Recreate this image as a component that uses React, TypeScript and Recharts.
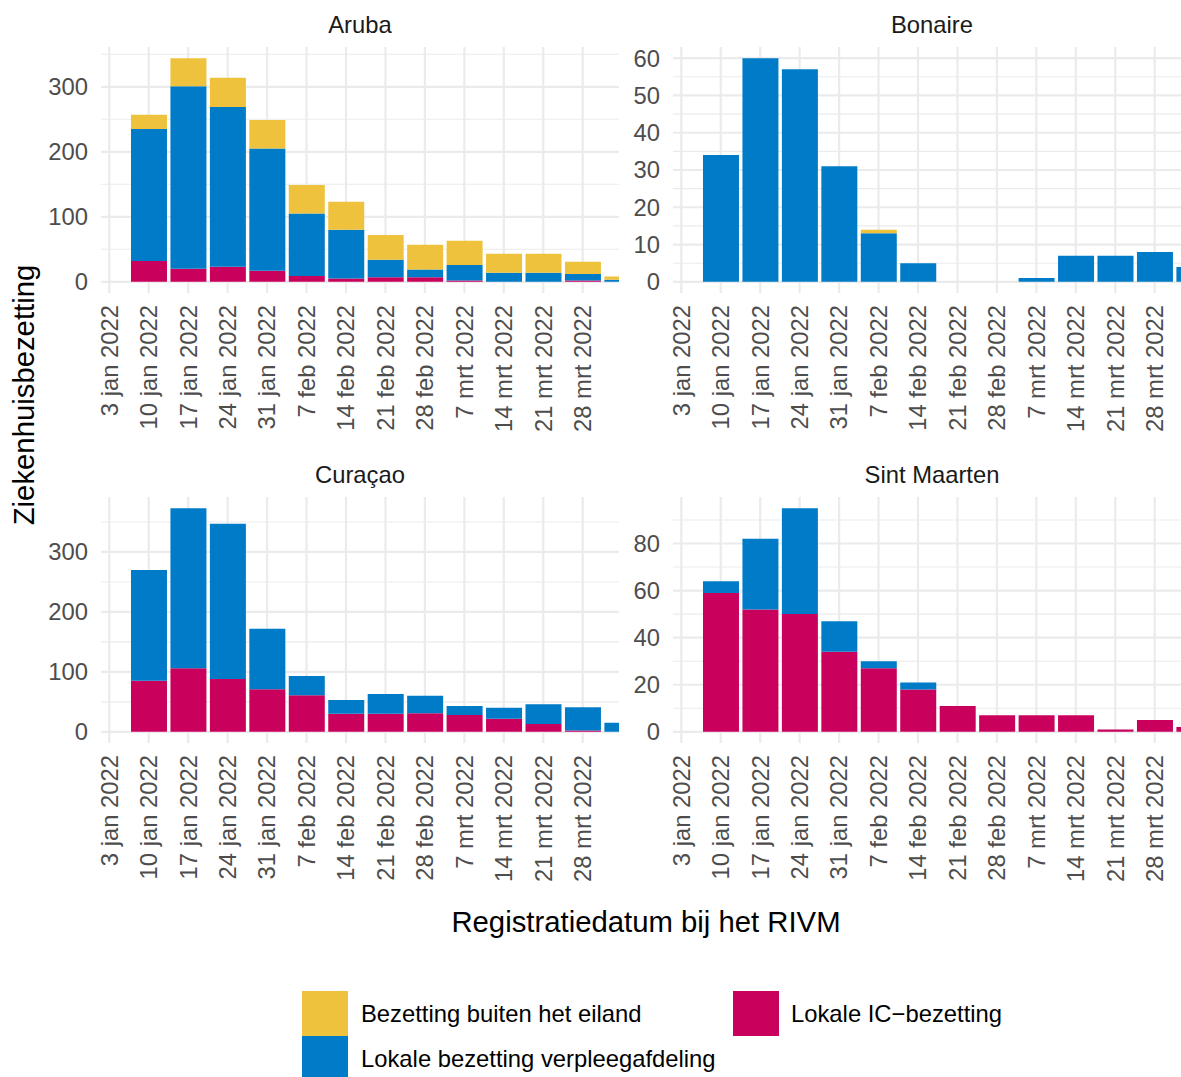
import { Bar, BarChart, CartesianGrid, XAxis, YAxis } from 'recharts';

const FONT = '"Liberation Sans", Arial, Helvetica, sans-serif';
const SMALL = 23.8;
const LARGE = 29.3;

const COLOR_ABROAD = '#EFC23D';
const COLOR_WARD = '#007BC7';
const COLOR_IC = '#CA005D';

// week start of each bar
const barDates = [
  '2022-01-10', '2022-01-17', '2022-01-24', '2022-01-31', '2022-02-07', '2022-02-14', '2022-02-21',
  '2022-02-28', '2022-03-07', '2022-03-14', '2022-03-21', '2022-03-28', '2022-04-04',
];

const tickDates = [
  '2022-01-03', '2022-01-10', '2022-01-17', '2022-01-24', '2022-01-31', '2022-02-07', '2022-02-14',
  '2022-02-21', '2022-02-28', '2022-03-07', '2022-03-14', '2022-03-21', '2022-03-28',
];
const tickLabels = [
  '3 jan 2022', '10 jan 2022', '17 jan 2022', '24 jan 2022', '31 jan 2022', '7 feb 2022', '14 feb 2022',
  '21 feb 2022', '28 feb 2022', '7 mrt 2022', '14 mrt 2022', '21 mrt 2022', '28 mrt 2022',
];

const arubaIC = [32, 20, 23, 17, 9, 5, 7, 7, 2, 0, 0, 2, 0];
const arubaWard = [203, 281, 246, 188, 96, 75, 27, 12, 24, 14, 14, 10, 3];
const arubaAbroad = [22, 43, 45, 44, 44, 43, 38, 38, 37, 29, 29, 19, 5];

const bonaireIC = [0, 0, 0, 0, 0, 0, 0, 0, 0, 0, 0, 0, 0];
const bonaireWard = [34, 60, 57, 31, 13, 5, 0, 0, 1, 7, 7, 8, 4];
const bonaireAbroad = [0, 0, 0, 0, 1, 0, 0, 0, 0, 0, 0, 0, 0];

const curacaoIC = [85, 106, 88, 71, 61, 30, 30, 31, 28, 22, 13, 2, 0];
const curacaoWard = [185, 267, 259, 101, 32, 23, 33, 29, 15, 18, 33, 39, 15];
const curacaoAbroad = [0, 0, 0, 0, 0, 0, 0, 0, 0, 0, 0, 0, 0];

const sxmIC = [59, 52, 50, 34, 27, 18, 11, 7, 7, 7, 1, 5, 2];
const sxmWard = [5, 30, 45, 13, 3, 3, 0, 0, 0, 0, 0, 0, 0];
const sxmAbroad = [0, 0, 0, 0, 0, 0, 0, 0, 0, 0, 0, 0, 0];

const DAY = 86400000;
const origin = Date.parse('2022-01-03');
const toDay = (d: string) => (Date.parse(d) - origin) / DAY;
const tickDays = tickDates.map(toDay);
const X_DOMAIN: [number, number] = [-1.47, 90.44];

type Row = { day: number; ic: number; ward: number; abroad: number };

const makeRows = (ic: number[], ward: number[], abroad: number[]): Row[] =>
  barDates.map((d, i) => ({ day: toDay(d), ic: ic[i], ward: ward[i], abroad: abroad[i] }));

const DateTick = (props: any) => {
  const { x, y, payload } = props;
  const label = tickLabels[tickDays.indexOf(payload.value)];
  return (
    <text
      x={x}
      y={y}
      transform={`rotate(-90, ${x}, ${y})`}
      textAnchor="end"
      dy="0.35em"
      fill="#4D4D4D"
      fontSize={SMALL}
      fontFamily={FONT}
    >
      {label}
    </text>
  );
};

type PanelProps = {
  rows: Row[];
  ticks: number[];
  minor: number[];
  left: number;
  top: number;
};

function Panel({ rows, ticks, minor, left, top }: PanelProps) {
  const max = Math.max(...rows.map((r) => r.ic + r.ward + r.abroad));
  const domain: [number, number] = [-0.05 * max, 1.05 * max];

  return (
    <div style={{ position: 'absolute', left, top, width: 640, height: 450 }}>
      <BarChart
        width={640}
        height={450}
        data={rows}
        margin={{ top: 47, right: 21, bottom: 7, left: 0 }}
        barCategoryGap="5%"
      >
        <CartesianGrid horizontalValues={minor} vertical={false} stroke="#EBEBEB" strokeWidth={1.1} />
        <CartesianGrid horizontalValues={ticks} verticalValues={tickDays} stroke="#EBEBEB" strokeWidth={2.2} />
        <XAxis
          type="number"
          dataKey="day"
          domain={X_DOMAIN}
          allowDataOverflow
          ticks={tickDays}
          interval={0}
          tick={<DateTick />}
          tickLine={false}
          axisLine={false}
          height={150}
          tickSize={0}
          tickMargin={12}
        />
        <YAxis
          type="number"
          domain={domain}
          allowDataOverflow
          ticks={ticks}
          interval={0}
          tickLine={false}
          axisLine={false}
          width={101}
          tickSize={0}
          tickMargin={13}
          tick={{ fill: '#4D4D4D', fontSize: SMALL, fontFamily: FONT }}
        />
        <Bar dataKey="ic" stackId="s" fill={COLOR_IC} isAnimationActive={false} />
        <Bar dataKey="ward" stackId="s" fill={COLOR_WARD} isAnimationActive={false} />
        <Bar dataKey="abroad" stackId="s" fill={COLOR_ABROAD} isAnimationActive={false} />
      </BarChart>
    </div>
  );
}

export default function App() {
  return (
    <div
      style={{
        position: 'absolute',
        left: 0,
        top: 0,
        width: 1181,
        height: 1077,
        overflow: 'hidden',
        background: '#fff',
        fontFamily: FONT,
      }}
    >
      <Panel
        rows={makeRows(arubaIC, arubaWard, arubaAbroad)}
        ticks={[0, 100, 200, 300]}
        minor={[50, 150, 250, 350]}
        left={0}
        top={0}
      />
      <Panel
        rows={makeRows(bonaireIC, bonaireWard, bonaireAbroad)}
        ticks={[0, 10, 20, 30, 40, 50, 60]}
        minor={[5, 15, 25, 35, 45, 55]}
        left={572}
        top={0}
      />
      <Panel
        rows={makeRows(curacaoIC, curacaoWard, curacaoAbroad)}
        ticks={[0, 100, 200, 300]}
        minor={[50, 150, 250, 350]}
        left={0}
        top={450}
      />
      <Panel
        rows={makeRows(sxmIC, sxmWard, sxmAbroad)}
        ticks={[0, 20, 40, 60, 80]}
        minor={[10, 30, 50, 70, 90]}
        left={572}
        top={450}
      />
      <svg
        width={1181}
        height={1077}
        style={{ position: 'absolute', left: 0, top: 0, pointerEvents: 'none' }}
        fontFamily={FONT}
      >
        <text x={360} y={33} textAnchor="middle" fontSize={SMALL} fill="#1A1A1A">Aruba</text>
        <text x={932} y={33} textAnchor="middle" fontSize={SMALL} fill="#1A1A1A">Bonaire</text>
        <text x={360} y={483} textAnchor="middle" fontSize={SMALL} fill="#1A1A1A">Curaçao</text>
        <text x={932} y={483} textAnchor="middle" fontSize={SMALL} fill="#1A1A1A">Sint Maarten</text>
        <text x={34} y={395} transform="rotate(-90, 34, 395)" textAnchor="middle" fontSize={LARGE} fill="#000">
          Ziekenhuisbezetting
        </text>
        <text x={646} y={932} textAnchor="middle" fontSize={LARGE} fill="#000">
          Registratiedatum bij het RIVM
        </text>
        <rect x={302} y={991} width={46} height={45} fill={COLOR_ABROAD} />
        <rect x={302} y={1036} width={46} height={45} fill={COLOR_WARD} />
        <rect x={733} y={991} width={46} height={45} fill={COLOR_IC} />
        <text x={361} y={1014} dy="0.35em" fontSize={SMALL} fill="#000">Bezetting buiten het eiland</text>
        <text x={361} y={1059} dy="0.35em" fontSize={SMALL} fill="#000">Lokale bezetting verpleegafdeling</text>
        <text x={791} y={1014} dy="0.35em" fontSize={SMALL} fill="#000">Lokale IC−bezetting</text>
      </svg>
    </div>
  );
}
